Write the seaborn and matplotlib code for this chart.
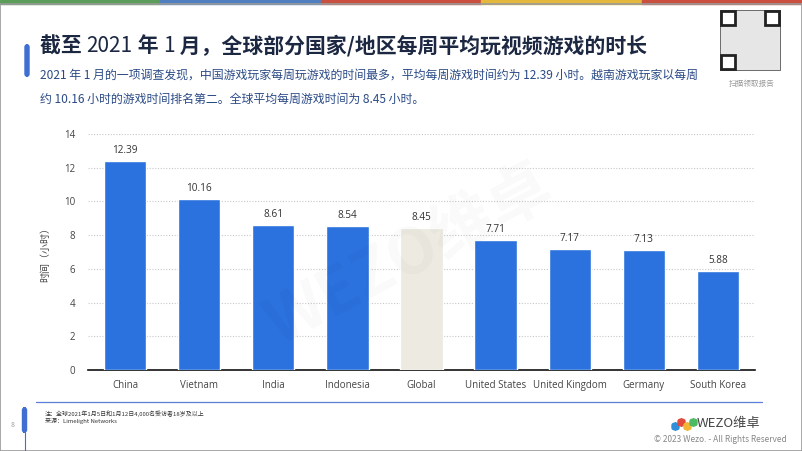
import matplotlib
matplotlib.use("Agg")
import matplotlib.pyplot as plt
import seaborn as sns
import pandas as pd
from matplotlib.patches import Rectangle, FancyBboxPatch

categories = ["China", "Vietnam", "India", "Indonesia", "Global",
              "United States", "United Kingdom", "Germany", "South Korea"]
values = [12.39, 10.16, 8.61, 8.54, 8.45, 7.71, 7.17, 7.13, 5.88]
value_labels = ["12.39", "10.16", "8.61", "8.54", "8.45", "7.71", "7.17", "7.13", "5.88"]
yticks = [0, 2, 4, 6, 8, 10, 12, 14]

title_parts = [("截至 ", "bold"), ("2021", "normal"), (" 年 ", "bold"), ("1", "normal"),
               (" 月，全球部分国家/地区每周平均玩视频游戏的时长", "bold")]
subtitle1 = "2021 年 1 月的一项调查发现，中国游戏玩家每周玩游戏的时间最多，平均每周游戏时间约为 12.39 小时。越南游戏玩家以每周"
subtitle2 = "约 10.16 小时的游戏时间排名第二。全球平均每周游戏时间为 8.45 小时。"
ylabel = "时间（小时）"
note1 = "注：全球2021年1月5日和1月12日4,000名受访者18岁及以上"
note2 = "来源：Limelight Networks"

sns.set_style("white")
plt.rcParams['font.family'] = ['Noto Sans CJK SC', 'DejaVu Sans']

W, H = 802, 451
fig = plt.figure(figsize=(W / 100, H / 100), dpi=100)
fig.patch.set_facecolor("white")
renderer = fig.canvas.get_renderer()

def fx(px):
    return px / W

def fy(py):
    return 1 - py / H

# top colour band
band_cols = ["#5a9e5a", "#4f7fc0", "#c9503f", "#e3b83c", "#c9503f"]
seg = W / len(band_cols)
for i, c in enumerate(band_cols):
    fig.patches.append(Rectangle((fx(i * seg), fy(4)), fx(seg), 4 / H,
                                 transform=fig.transFigure, color=c, zorder=0))
# frame
fig.patches.append(Rectangle((0, 0), 1, fy(4), transform=fig.transFigure,
                             fill=False, edgecolor="#9a9a9a", lw=1.2))

# title accent bar
fig.patches.append(FancyBboxPatch((fx(25), fy(76)), fx(4), 31 / H,
                                  boxstyle="round,pad=0,rounding_size=0.004",
                                  transform=fig.transFigure, color="#3f6fd1"))
xpos = 40.0
for txt, wt in title_parts:
    t = fig.text(fx(xpos), fy(46), txt, fontsize=15, fontweight=wt,
                 color="#1c2742", va="center", ha="left")
    bb = t.get_window_extent(renderer=renderer)
    xpos += bb.width
fig.text(fx(40), fy(75), subtitle1, fontsize=8.6, color="#2a4a86",
         va="center", ha="left")
fig.text(fx(40), fy(99), subtitle2, fontsize=8.6, color="#2a4a86",
         va="center", ha="left")

# QR placeholder
qx, qy, qs = 720, 10, 60
fig.patches.append(Rectangle((fx(qx), fy(qy + qs)), fx(qs), qs / H,
                             transform=fig.transFigure, facecolor="#e6e6e6",
                             edgecolor="#555555", lw=0.6))
for ox, oy in [(0, 0), (qs - 16, 0), (0, qs - 16)]:
    fig.patches.append(Rectangle((fx(qx + ox + 1), fy(qy + oy + 15)), fx(14), 14 / H,
                                 transform=fig.transFigure, facecolor="white",
                                 edgecolor="#222222", lw=2))
fig.text(fx(752), fy(84), "扫描领取报告", fontsize=5.5, color="#999999",
         ha="center", va="center")

# chart
ax = fig.add_axes([fx(88), fy(370), fx(755 - 88), (370 - 134) / H])
df = pd.DataFrame({"category": categories, "value": values})
palette = {c: ("#ECEAE1" if c == "Global" else "#2B72DE") for c in categories}
sns.barplot(data=df, x="category", y="value", hue="category", palette=palette,
            order=categories, hue_order=categories, legend=False, width=0.57,
            saturation=1, ax=ax, zorder=3)
for p, lab in zip(ax.patches, value_labels):
    ax.text(p.get_x() + p.get_width() / 2, p.get_height() + 0.3, lab,
            ha="center", va="bottom", fontsize=7.2, color="#333333",
            family=["Open Sans", "DejaVu Sans"])
ax.set_ylim(0, 14)
ax.set_yticks(yticks)
ax.set_yticklabels([str(t) for t in yticks])
ax.set_xlim(-0.5, len(categories) - 0.5)
ax.yaxis.grid(True, linestyle=(0, (1, 1.5)), color="#c8c8c8", lw=0.8, zorder=0)
ax.xaxis.grid(False)
for s in ["top", "right", "left"]:
    ax.spines[s].set_visible(False)
ax.spines["bottom"].set_color("#111111")
ax.spines["bottom"].set_linewidth(1.2)
ax.tick_params(axis="both", length=0, labelsize=7, colors="#444444")
for lab in ax.get_xticklabels() + ax.get_yticklabels():
    lab.set_family(["Open Sans", "DejaVu Sans"])
ax.tick_params(axis="y", pad=9)
ax.tick_params(axis="x", pad=7)
ax.set_xlabel("")
ax.set_ylabel(ylabel, fontsize=7.2, color="#444444", labelpad=10)

# watermark
fig.text(fx(410), fy(255), "WEZO维卓", fontsize=46, color="#000000", alpha=0.025,
         rotation=28, ha="center", va="center", fontweight="bold")

# footer
fig.lines.append(plt.Line2D([fx(36), fx(762)], [fy(402), fy(402)],
                            transform=fig.transFigure, color="#5b7fd4", lw=0.9))
fig.patches.append(FancyBboxPatch((fx(22.5), fy(432)), fx(4), 24 / H,
                                  boxstyle="round,pad=0,rounding_size=0.004",
                                  transform=fig.transFigure, color="#3f6fd1"))
fig.lines.append(plt.Line2D([fx(24.5), fx(24.5)], [fy(432), fy(451)],
                            transform=fig.transFigure, color="#3f6fd1", lw=0.8))
fig.text(fx(13), fy(425), "8", fontsize=5, color="#999999", ha="center", va="center")
fig.text(fx(45), fy(414), note1, fontsize=4.3, color="#333333", ha="left", va="center")
fig.text(fx(45), fy(421), note2, fontsize=4.3, color="#333333", ha="left", va="center")

# logo
logo_cols = ["#2f8fd8", "#e24a3b", "#f2b636", "#4dbb63"]
for i, c in enumerate(logo_cols):
    fig.patches.append(FancyBboxPatch((fx(672 + i * 6), fy(430 - (i % 2) * 4)), fx(7), 7 / H,
                                      boxstyle="round,pad=0,rounding_size=0.005",
                                      transform=fig.transFigure, color=c))
fig.text(fx(697), fy(424), "WEZO维卓", fontsize=9.5, color="#444444",
         ha="left", va="center")
fig.text(fx(787), fy(440), "© 2023 Wezo. - All Rights Reserved", fontsize=6,
         color="#888888", ha="right", va="center")

fig.savefig("out.png", dpi=100, facecolor="white")
